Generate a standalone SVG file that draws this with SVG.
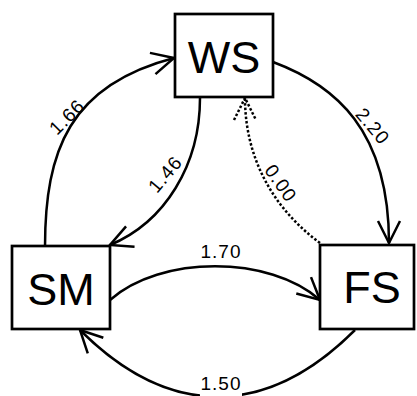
<svg xmlns="http://www.w3.org/2000/svg" width="417" height="396" viewBox="0 0 417 396">
<style>
.box{fill:#fff;stroke:#000;stroke-width:2.7}
.nl{font-family:"Liberation Sans",Arial,sans-serif;font-size:45px;fill:#000;text-anchor:middle}
.e{fill:none;stroke:#000;stroke-width:2.5}
.dot{stroke-dasharray:2.5 2}
.el{font-family:"Liberation Sans",Arial,sans-serif;font-size:19px;fill:#000;text-anchor:middle;letter-spacing:1px}
</style>
<defs>
<marker id="ah" markerUnits="userSpaceOnUse" viewBox="-26 -14 30 28" refX="0" refY="0" markerWidth="30" markerHeight="28" orient="auto" overflow="visible">
<path d="M-22,-11 L0,0 L-22,11" fill="none" stroke="#000" stroke-width="2.5"/>
</marker>
<marker id="ahd" markerUnits="userSpaceOnUse" viewBox="-26 -14 30 28" refX="0" refY="0" markerWidth="30" markerHeight="28" orient="auto" overflow="visible">
<path d="M-22,-11 L0,0 L-22,11" fill="none" stroke="#000" stroke-width="2.5" stroke-dasharray="2.5 2"/>
</marker>
</defs>
<g id="edges">
<path class="e" d="M45,247 C45,150 70,85 174,58" marker-end="url(#ah)"/>
<path class="e" d="M200,98 C200,165 165,222 110,245" marker-end="url(#ah)"/>
<path class="e" d="M273,62 C335,85 389,130 389,243" marker-end="url(#ah)"/>
<path class="e dot" d="M320,243 C275,210 245,160 245,98" marker-end="url(#ahd)"/>
<path class="e" d="M110,300 C160,255 270,255 320,300" marker-end="url(#ah)"/>
<path class="e" d="M355,330 C266,419 169,419 80,330" marker-end="url(#ah)"/>
<text class="el" transform="translate(66.7,116.7) rotate(-45)" y="6.8">1.66</text>
<text class="el" transform="translate(165,174) rotate(-50)" y="6.8">1.46</text>
<text class="el" transform="translate(373,126) rotate(50)" y="6.8">2.20</text>
<text class="el" transform="translate(281,183) rotate(55)" y="6.8">0.00</text>
<text class="el" x="221" y="258">1.70</text>
<rect x="200" y="375" width="42" height="21" fill="#fff"/>
<text class="el" x="221" y="390">1.50</text>
</g>
<g id="WS">
<rect class="box" x="175" y="14" width="98" height="83"/>
<text class="nl" x="224" y="72.5">WS</text>
</g>
<g id="SM">
<rect class="box" x="12" y="246" width="98" height="83"/>
<text class="nl" x="61" y="305">SM</text>
</g>
<g id="FS">
<rect class="box" x="320" y="245" width="94" height="84"/>
<text class="nl" x="372" y="303">FS</text>
</g>
</svg>
